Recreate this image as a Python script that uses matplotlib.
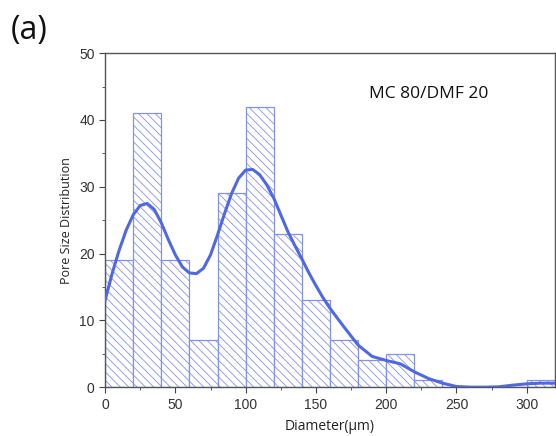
import numpy as np
import matplotlib
matplotlib.use("Agg")
import matplotlib.pyplot as plt
from matplotlib.ticker import MultipleLocator

# histogram bins (width 20 um) and counts
bin_left = [0, 20, 40, 60, 80, 100, 120, 140, 160, 180, 200, 220, 240, 260, 280, 300]
counts = [19, 41, 19, 7, 29, 42, 23, 13, 7, 4, 5, 1, 0, 0, 0, 1]

# smooth distribution curve
curve_x = [0, 5, 10, 15, 20, 25, 30, 35, 40, 45, 50, 55, 60, 65, 70, 75, 80,
           85, 90, 95, 100, 105, 110, 115, 120, 125, 130, 135, 140, 145, 150,
           155, 160, 170, 180, 190, 200, 210, 220, 230, 240, 250, 260, 270,
           280, 290, 300, 310, 320]
curve_y = [13, 17, 20.5, 23.5, 25.8, 27.2, 27.5, 26.6, 24.6, 22.1, 19.8, 18.0,
           17.1, 17.0, 17.8, 19.8, 22.8, 26.0, 29.0, 31.3, 32.5, 32.6, 31.8,
           30.3, 28.3, 25.8, 23.3, 21.2, 19.2, 17.1, 15.2, 13.4, 11.8, 9.0,
           6.3, 4.6, 4.0, 3.5, 2.3, 1.3, 0.6, 0.1, 0, 0, 0.05, 0.3, 0.5, 0.6, 0.6]

bar_col = "#8492e6"
line_col = "#5068e0"

fig = plt.figure(figsize=(5.56, 4.36), dpi=100)
ax = fig.add_axes([0.189, 0.112, 0.809, 0.766])

plt.rcParams["hatch.linewidth"] = 0.6
ax.bar(bin_left, counts, width=20, align="edge", facecolor="white",
       edgecolor=bar_col, hatch="\\\\\\\\", linewidth=0.9, zorder=2)
ax.plot(curve_x, curve_y, color=line_col, lw=2.2, zorder=3)

ax.set_xlim(0, 320)
ax.set_ylim(0, 50)
ax.xaxis.set_major_locator(MultipleLocator(50))
ax.xaxis.set_minor_locator(MultipleLocator(25))
ax.yaxis.set_major_locator(MultipleLocator(10))
ax.yaxis.set_minor_locator(MultipleLocator(5))
ax.tick_params(which="both", direction="out", top=False, right=False,
               color="#444444")
ax.tick_params(which="major", length=4, labelsize=10, labelcolor="#333333")
ax.tick_params(which="minor", length=2.5)
for lab in ax.get_xticklabels() + ax.get_yticklabels():
    lab.set_family("Liberation Sans")
for sp in ax.spines.values():
    sp.set_color("#555555")
    sp.set_linewidth(1.0)

ax.set_xlabel("Diameter(\u03bcm)", fontsize=10, family="Open Sans",
              color="#222222", labelpad=5)
ax.set_ylabel("Pore Size Distribution", fontsize=9, family="Open Sans",
              color="#222222", labelpad=4)

ax.text(188, 43.9, "MC 80/DMF 20", fontsize=12.5, family="Open Sans",
        va="center", ha="left", color="#111111")
fig.text(0.02, 0.93, "(a)", fontsize=23, family="Open Sans", va="center",
         ha="left", color="#111111")

plt.savefig("out.png", dpi=100)
